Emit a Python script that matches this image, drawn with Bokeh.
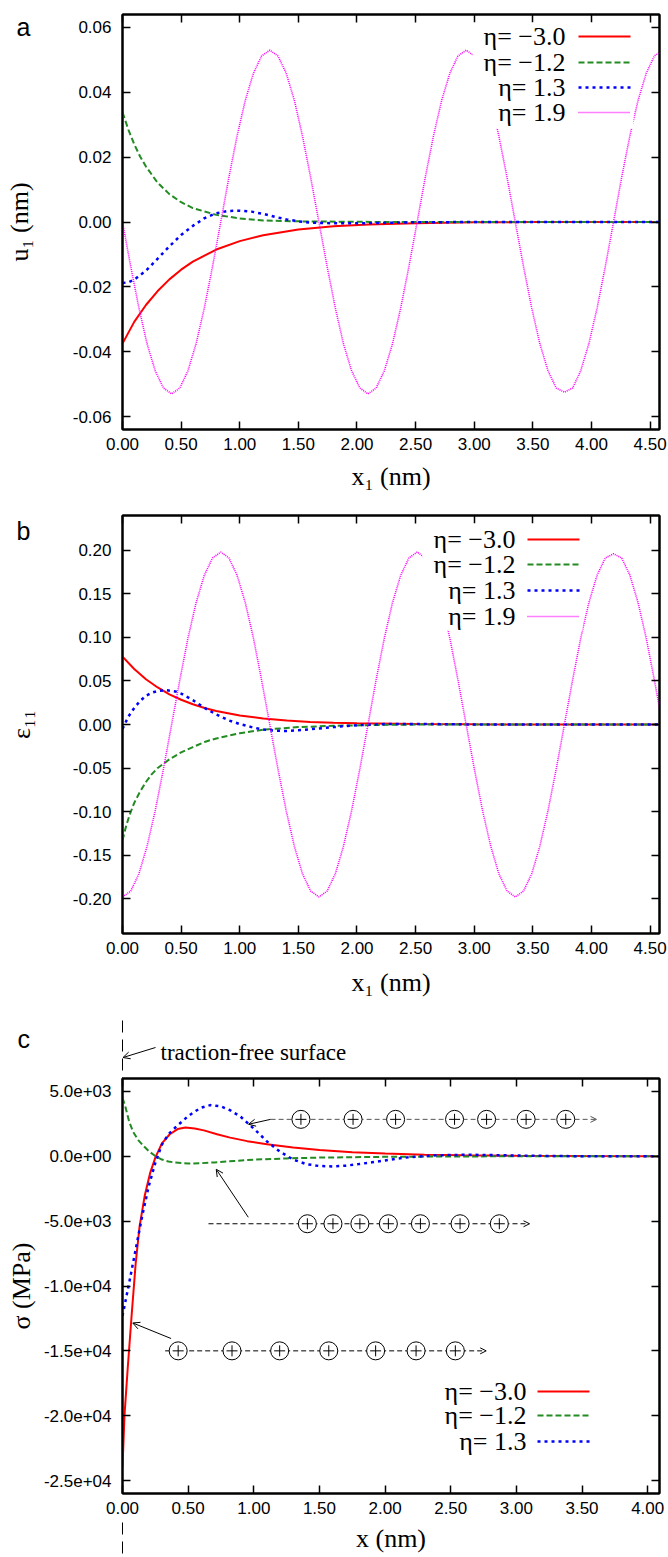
from bokeh.plotting import figure
from bokeh.models import (LinearAxis, FixedTicker, PrintfTickFormatter,
                          CustomJSTickFormatter, Label, Arrow, OpenHead, Range1d)
from bokeh.layouts import column
from bokeh.embed import file_html
from bokeh.resources import INLINE

# ------------------------------------------------------------------ data
eta_labels = ["η= −3.0", "η= −1.2", "η= 1.3", "η= 1.9"]
panel_letters = ["a", "b", "c"]
x_axis_titles = ["x₁ (nm)", "x₁ (nm)", "x (nm)"]
y_axis_titles = ["u₁ (nm)", "ε₁₁", "σ (MPa)"]

ticks_x_ab = [0.0, 0.5, 1.0, 1.5, 2.0, 2.5, 3.0, 3.5, 4.0, 4.5]
ticks_x_c = [0.0, 0.5, 1.0, 1.5, 2.0, 2.5, 3.0, 3.5, 4.0]
ticks_y_a = [-0.06, -0.04, -0.02, 0.0, 0.02, 0.04, 0.06]
ticks_y_b = [-0.20, -0.15, -0.10, -0.05, 0.0, 0.05, 0.10, 0.15, 0.20]
ticks_y_c = [-25000, -20000, -15000, -10000, -5000, 0, 5000]

# panel a : u1
a_red_x = [0, 0.1, 0.2, 0.3, 0.4, 0.5, 0.6, 0.8, 1.0, 1.2, 1.5, 1.8, 2.1, 2.5, 3.0, 3.5, 4.6]
a_red_y = [-0.0375, -0.0308, -0.0256, -0.0213, -0.0177, -0.0147, -0.0122, -0.0085, -0.0059,
           -0.0041, -0.0023, -0.0013, -0.0008, -0.0004, -0.0001, 0.0, 0.0]
a_green_x = [0, 0.05, 0.1, 0.15, 0.2, 0.3, 0.4, 0.5, 0.6, 0.8, 1.0, 1.2, 1.5, 2.0, 2.5, 4.6]
a_green_y = [0.0338, 0.0285, 0.0240, 0.0202, 0.0171, 0.0121, 0.0086, 0.0061, 0.0043, 0.0022,
             0.0011, 0.0005, 0.0002, 0.00005, 0.0, 0.0]
a_blue_x = [0, 0.05, 0.1, 0.2, 0.3, 0.4, 0.5, 0.6, 0.7, 0.8, 0.9, 1.0, 1.1, 1.2, 1.3, 1.4,
            1.5, 1.6, 1.8, 2.0, 2.2, 2.5, 3.0, 4.6]
a_blue_y = [-0.0188, -0.0186, -0.0178, -0.0150, -0.0113, -0.0075, -0.0040, -0.0012, 0.0012,
            0.0027, 0.0034, 0.0035, 0.0032, 0.0025, 0.0016, 0.0008, 0.0002, -0.0002, -0.0004,
            -0.0004, -0.0003, -0.0001, 0.0, 0.0]

# eta = 1.9 (oscillating) - shared abscissa for panels a and b
wave_x = [0.000, 0.070, 0.140, 0.209, 0.279, 0.349, 0.419, 0.489, 0.558, 0.628, 0.698, 0.768,
          0.838, 0.907, 0.977, 1.047, 1.117, 1.186, 1.256, 1.326, 1.396, 1.466, 1.535, 1.605,
          1.675, 1.745, 1.815, 1.884, 1.954, 2.024, 2.094, 2.163, 2.233, 2.303, 2.373, 2.443,
          2.513, 2.582, 2.652, 2.722, 2.792, 2.861, 2.931, 3.001, 3.071, 3.141, 3.210, 3.280,
          3.350, 3.420, 3.490, 3.559, 3.629, 3.699, 3.769, 3.839, 3.908, 3.978, 4.048, 4.118,
          4.188, 4.257, 4.327, 4.397, 4.467, 4.536, 4.606]
a_magenta_y = [0, -0.0137, -0.0265, -0.0375, -0.0459, -0.0512, -0.053, -0.0512, -0.0459, -0.0375,
               -0.0265, -0.0137, 0, 0.0137, 0.0265, 0.0375, 0.0459, 0.0512, 0.053, 0.0512, 0.0459,
               0.0375, 0.0265, 0.0137,
               0, -0.0137, -0.0265, -0.0375, -0.0459, -0.0512, -0.053, -0.0512, -0.0459, -0.0375,
               -0.0265, -0.0137, 0, 0.0137, 0.0265, 0.0375, 0.0459, 0.0512, 0.053, 0.0512, 0.0459,
               0.0375, 0.0265, 0.0137,
               0, -0.0137, -0.0265, -0.0375, -0.0459, -0.0512, -0.0525, -0.0512, -0.0459, -0.0375,
               -0.0265, -0.0137, 0, 0.0137, 0.0265, 0.0375, 0.0459, 0.0512, 0.053]

# panel b : eps11
b_red_x = [0, 0.1, 0.2, 0.3, 0.4, 0.5, 0.6, 0.7, 0.8, 1.0, 1.2, 1.4, 1.6, 1.8, 2.0, 2.5, 3.0, 3.5, 4.6]
b_red_y = [0.078, 0.0637, 0.052, 0.0425, 0.0347, 0.0284, 0.0232, 0.0189, 0.0155, 0.0103, 0.0069,
           0.0046, 0.0030, 0.0020, 0.0013, 0.0005, 0.0002, 0.0001, 0.0]
b_green_x = [0, 0.03, 0.06, 0.1, 0.15, 0.2, 0.25, 0.3, 0.4, 0.5, 0.6, 0.7, 0.8, 1.0, 1.2, 1.5,
             1.8, 2.2, 2.6, 3.0, 4.6]
b_green_y = [-0.133, -0.117, -0.104, -0.090, -0.077, -0.066, -0.057, -0.050, -0.040, -0.032,
             -0.026, -0.020, -0.016, -0.010, -0.006, -0.003, -0.0015, -0.0005, 0.0, 0.0, 0.0]
b_blue_x = [0, 0.05, 0.1, 0.15, 0.2, 0.25, 0.3, 0.37, 0.45, 0.5, 0.6, 0.7, 0.8, 0.9, 1.0, 1.1,
            1.2, 1.3, 1.4, 1.5, 1.65, 1.8, 2.0, 2.2, 2.5, 3.0, 4.6]
b_blue_y = [-0.005, 0.009, 0.019, 0.027, 0.033, 0.0365, 0.0385, 0.0395, 0.038, 0.0355, 0.028,
            0.019, 0.0115, 0.005, 0.0005, -0.003, -0.0058, -0.0072, -0.0074, -0.0067, -0.0048,
            -0.003, -0.0008, 0.0004, 0.0007, 0.0, 0.0]
b_magenta_y = [-0.198, -0.1913, -0.1715, -0.140, -0.099, -0.0512, 0, 0.0512, 0.099, 0.140, 0.1715,
               0.1913, 0.198, 0.1913, 0.1715, 0.140, 0.099, 0.0512, 0, -0.0512, -0.099, -0.140,
               -0.1715, -0.1913,
               -0.198, -0.1913, -0.1715, -0.140, -0.099, -0.0512, 0, 0.0512, 0.099, 0.140, 0.1715,
               0.1913, 0.198, 0.1913, 0.1715, 0.140, 0.099, 0.0512, 0, -0.0512, -0.099, -0.140,
               -0.1715, -0.1913,
               -0.198, -0.1913, -0.1715, -0.140, -0.099, -0.0512, 0, 0.0512, 0.099, 0.140, 0.1715,
               0.1913, 0.196, 0.1913, 0.1715, 0.140, 0.099, 0.0512, 0]

# panel c : sigma (MPa)
c_red_x = [0, 0.015, 0.04, 0.07, 0.1, 0.13, 0.17, 0.21, 0.25, 0.3, 0.36, 0.42, 0.48, 0.55, 0.62,
           0.72, 0.82, 0.95, 1.1, 1.3, 1.5, 1.75, 2.0, 2.3, 2.6, 3.0, 3.5, 4.1]
c_red_y = [-24000, -20000, -16300, -12200, -8300, -5400, -3000, -1300, -100, 1000, 1700, 2100,
           2220, 2150, 2000, 1700, 1440, 1170, 930, 680, 480, 320, 210, 130, 80, 40, 15, 0]
c_green_x = [0, 0.02, 0.05, 0.08, 0.12, 0.16, 0.2, 0.25, 0.3, 0.35, 0.4, 0.5, 0.6, 0.7, 0.85,
             1.0, 1.25, 1.5, 2.0, 2.5, 3.0, 4.1]
c_green_y = [4500, 3900, 2700, 1900, 1250, 800, 400, 20, -250, -400, -480, -560, -530, -470,
             -360, -260, -160, -100, -40, -10, 0, 0]
c_blue_x = [0, 0.05, 0.1, 0.15, 0.2, 0.25, 0.3, 0.35, 0.4, 0.45, 0.5, 0.55, 0.6, 0.67, 0.75,
            0.82, 0.9, 0.96, 1.03, 1.1, 1.2, 1.3, 1.4, 1.5, 1.6, 1.7, 1.8, 1.9, 2.0, 2.1, 2.2,
            2.4, 2.6, 2.8, 3.0, 3.3, 3.6, 4.1]
c_blue_y = [-12300, -9800, -7200, -4600, -2300, -500, 900, 1700, 2200, 2650, 3100, 3450, 3750,
            3950, 3850, 3550, 3050, 2500, 1850, 1150, 350, -250, -600, -750, -780, -720, -600,
            -460, -320, -170, -50, 80, 120, 100, 60, 20, 0, 0]

# annotation rows of circled plus signs (panel c)
row_y = [2850, -5200, -15000]
row_start = [1.128, 0.655, 0.325]
row_end = [3.61, 3.10, 2.77]
row_circles = [[1.359, 1.756, 2.080, 2.529, 2.773, 3.074, 3.376],
               [1.408, 1.603, 1.808, 2.025, 2.269, 2.571, 2.870],
               [0.424, 0.834, 1.197, 1.571, 1.928, 2.236, 2.535]]
pointer_tail = [(1.128, 2850), (0.958, -4700), (0.370, -14050)]
pointer_tip = [(0.960, 2470), (0.714, -1000), (0.078, -12850)]
surface_note = "traction-free surface"

# ------------------------------------------------------------------ styles / layout
COLORS = ["#ff0000", "#228b22", "#0000ff", "#ff00ff"]
WIDTHS = [2.0, 2.0, 2.5, 1.6]
DASHES = ["solid", "6 3", "3 4", "1 1"]

PAGE_W, PAGE_H = 668, 1557
FRAME_L, FRAME_R = 122, 659
SERIF = "Liberation Serif"
SANS = "Liberation Sans"


class Mapper:
    def __init__(self, ftop, fbot, xr, yr):
        self.ftop, self.fbot, self.xr, self.yr = ftop, fbot, xr, yr

    def x(self, px):
        return self.xr[0] + (px - FRAME_L) / (FRAME_R - FRAME_L) * (self.xr[1] - self.xr[0])

    def y(self, py):
        return self.yr[1] - (py - self.ftop) / (self.fbot - self.ftop) * (self.yr[1] - self.yr[0])


def blank_axis(ticks):
    return LinearAxis(ticker=FixedTicker(ticks=ticks),
                      formatter=CustomJSTickFormatter(code="return '';"),
                      major_label_text_font_size="0px", major_label_standoff=0,
                      major_tick_in=8, major_tick_out=0, minor_tick_in=0, minor_tick_out=0,
                      major_tick_line_width=1.5, axis_line_width=2)


def make_panel(top, ftop, fbot, bottom, xr, yr, xt, yt, yfmt, xlab, ylab, ylab_standoff,
               xlab_standoff):
    p = figure(width=PAGE_W, height=bottom - top, x_range=Range1d(*xr), y_range=Range1d(*yr),
               output_backend="svg", toolbar_location=None,
               min_border_left=FRAME_L, min_border_right=PAGE_W - FRAME_R,
               min_border_top=ftop - top, min_border_bottom=bottom - fbot)
    p.grid.visible = False
    p.outline_line_color = "black"
    p.outline_line_width = 2
    p.outline_line_alpha = 1
    p.background_fill_color = "white"
    p.border_fill_color = "white"
    xa = p.xaxis[0]
    ya = p.yaxis[0]
    xa.ticker = FixedTicker(ticks=xt)
    ya.ticker = FixedTicker(ticks=yt)
    xa.formatter = PrintfTickFormatter(format="%.2f")
    ya.formatter = yfmt
    for ax in (xa, ya):
        ax.major_tick_in = 8
        ax.major_tick_out = 0
        ax.minor_tick_in = 0
        ax.minor_tick_out = 0
        ax.major_tick_line_width = 1.5
        ax.axis_line_width = 2
        ax.major_label_text_font = SANS
        ax.major_label_text_font_size = "17px"
        ax.major_label_text_color = "black"
        ax.axis_label_text_font = SERIF
        ax.axis_label_text_font_size = "26px"
        ax.axis_label_text_font_style = "normal"
        ax.axis_label_text_color = "black"
    xa.major_label_standoff = 8
    ya.major_label_standoff = 11
    xa.axis_label = xlab
    ya.axis_label = ylab
    xa.axis_label_standoff = xlab_standoff
    ya.axis_label_standoff = ylab_standoff
    p.add_layout(blank_axis(xt), "above")
    p.add_layout(blank_axis(yt), "right")
    return p, Mapper(ftop, fbot, xr, yr)


def draw_legend(p, M, n, rows_py, text_right_px, sample_px, box=None):
    if box is not None:
        p.quad(left=M.x(box[0]), right=M.x(box[1]), top=M.y(box[2]), bottom=M.y(box[3]),
               fill_color="white", line_color=None, level="annotation")
    for i in range(n):
        yy = M.y(rows_py[i])
        p.add_layout(Label(x=M.x(text_right_px), y=yy, text=eta_labels[i], text_font=SERIF,
                           text_font_size="26px", text_color="black", text_align="right",
                           text_baseline="middle", level="overlay"))
        p.line([M.x(sample_px[0]), M.x(sample_px[1])], [yy, yy], line_color=COLORS[i],
               line_width=WIDTHS[i], line_dash=DASHES[i], level="overlay")


def draw_series(p, series):
    for i, (xs, ys) in enumerate(series):
        p.line(xs, ys, line_color=COLORS[i], line_width=WIDTHS[i], line_dash=DASHES[i])


# ---------------- panel a
pa, Ma = make_panel(0, 14, 429, 500, (0, 4.58), (-0.064, 0.064), ticks_x_ab, ticks_y_a,
                    PrintfTickFormatter(format="%.2f"), x_axis_titles[0], y_axis_titles[0], 36, 9)
draw_series(pa, [(a_red_x, a_red_y), (a_green_x, a_green_y), (a_blue_x, a_blue_y),
                 (wave_x, a_magenta_y)])
draw_legend(pa, Ma, 4, [36, 62, 87, 112], 565, (578, 630), box=(472, 633, 22, 128))

# ---------------- panel b
pb, Mb = make_panel(500, 515, 933, 1000, (0, 4.58), (-0.24, 0.24), ticks_x_ab, ticks_y_b,
                    PrintfTickFormatter(format="%.2f"), x_axis_titles[1], y_axis_titles[1], 34, 11)
draw_series(pb, [(b_red_x, b_red_y), (b_green_x, b_green_y), (b_blue_x, b_blue_y),
                 (wave_x, b_magenta_y)])
draw_legend(pb, Mb, 4, [539, 564, 590, 616], 515, (527, 579), box=(422, 582, 523, 630))

# ---------------- panel c
exp_fmt = CustomJSTickFormatter(code="""
const s = tick.toExponential(1);
const m = s.match(/^(-?[0-9.]+)e([+-])([0-9]+)$/);
if (!m) { return s; }
const e = m[3].length < 2 ? "0" + m[3] : m[3];
return m[1] + "e" + m[2] + e;
""")
pc, Mc = make_panel(1000, 1078, 1493, 1557, (0, 4.09), (-26000, 6000), ticks_x_c, ticks_y_c,
                    exp_fmt, x_axis_titles[2], y_axis_titles[2], 5, 7)
draw_series(pc, [(c_red_x, c_red_y), (c_green_x, c_green_y), (c_blue_x, c_blue_y)])
draw_legend(pc, Mc, 3, [1391, 1415, 1441], 526, (537, 589))

row_colors = ["#555555", "black", "black"]
for i in range(3):
    pc.add_layout(Arrow(x_start=row_start[i], y_start=row_y[i], x_end=row_end[i], y_end=row_y[i],
                        line_color=row_colors[i], line_width=1, line_dash="5 3",
                        end=OpenHead(size=6, line_width=1, line_color=row_colors[i])))
    ys = [row_y[i]] * len(row_circles[i])
    pc.scatter(row_circles[i], ys, marker="circle", size=18, fill_color="white",
               line_color="black", line_width=1, level="overlay")
    pc.scatter(row_circles[i], ys, marker="cross", size=11, line_color="black", line_width=1,
               level="overlay")
    pc.add_layout(Arrow(x_start=pointer_tail[i][0], y_start=pointer_tail[i][1],
                        x_end=pointer_tip[i][0], y_end=pointer_tip[i][1],
                        line_color="black", line_width=1,
                        end=OpenHead(size=7, line_width=1, line_color="black")))

# ---------------- page overlay (separate root) for marks outside the plot frames
ov = figure(width=PAGE_W, height=PAGE_H, x_range=Range1d(0, PAGE_W), y_range=Range1d(PAGE_H, 0),
            output_backend="svg", toolbar_location=None, x_axis_type=None, y_axis_type=None,
            min_border=0, margin=(-PAGE_H, 0, 0, 0))
ov.grid.visible = False
ov.outline_line_color = None
ov.background_fill_alpha = 0
ov.border_fill_alpha = 0

for letter, (lx, ly) in zip(panel_letters, [(16, 26), (16, 530), (17, 1038)]):
    ov.add_layout(Label(x=lx, y=ly, text=letter, text_font=SANS, text_font_size="25px",
                        text_color="black", text_align="left", text_baseline="alphabetic"))

ov.add_layout(Label(x=160, y=1052, text=surface_note, text_font=SERIF, text_font_size="23px",
                    text_color="black", text_align="left", text_baseline="alphabetic"))
ov.add_layout(Arrow(x_start=155, y_start=1047, x_end=FRAME_L + 0.5, y_end=1057,
                    line_color="black", line_width=1,
                    end=OpenHead(size=7, line_width=1, line_color="black")))
for y0, y1 in ((1020, 1078), (1522, PAGE_H)):
    ov.add_layout(Arrow(end=None, x_start=FRAME_L, x_end=FRAME_L, y_start=y0, y_end=y1,
                        line_color="black", line_width=1, line_dash="12 7"))

layout = column(pa, pb, pc)
open("out.html", "w").write(file_html([layout, ov], INLINE))
